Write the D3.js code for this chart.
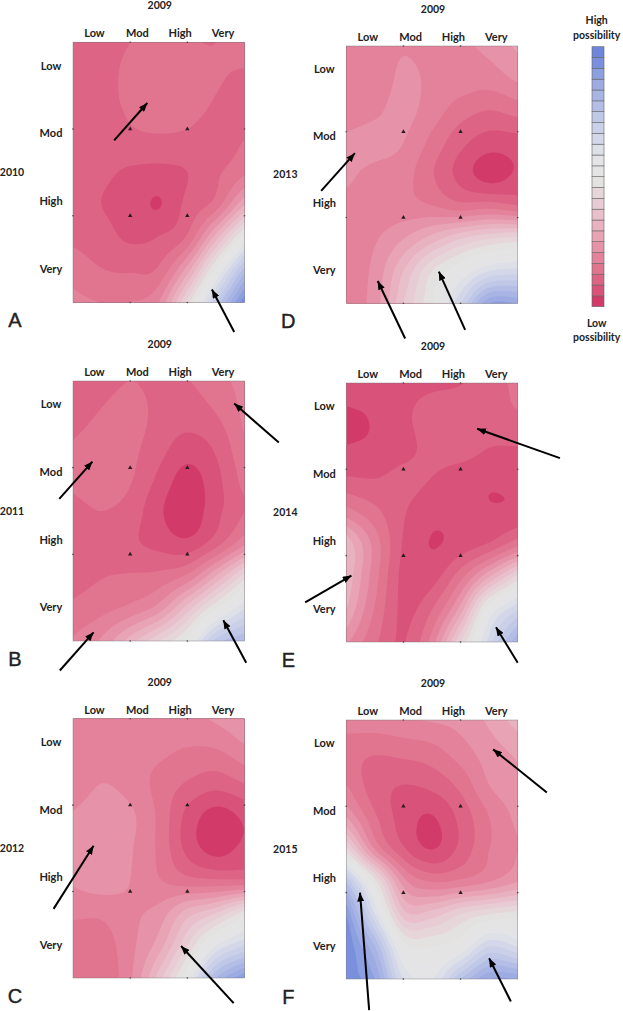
<!DOCTYPE html>
<html>
<head>
<meta charset="utf-8">
<script src="https://cdn.jsdelivr.net/npm/d3@7"></script>
<style>
  html, body { margin: 0; padding: 0; background: #fff; }
  text { font-family: Lato, "Open Sans", sans-serif; font-weight: 700; fill: #222; }
</style>
</head>
<body>
<div id="chart"></div>
<script>
const categories = ['Low', 'Mod', 'High', 'Very'];
const baseYear = '2009';

// bottom (low possibility) to top (high possibility)
const levelColors = ['#d23a6a', '#d8527a', '#dd6484', '#e1748e', '#e4829b', '#e692a8', '#e8a3b5', '#e9b2c0',
  '#e9bfcb', '#e8ccd5', '#e6d6da', '#e4e1e1', '#e4e4e4', '#e4e4e6', '#dee0e8', '#d3d7e9',
  '#cad0e8', '#c0c8e8', '#b3bde6', '#a8b4e4', '#9dabe2', '#8c9fe0', '#7a90de', '#6e85dc'];

// surface, 9 rows by 7 columns, in legend steps
const surfaceA = [
  [2.5, 2.7, 3.0, 3.4, 3.1, 3.0, 3.5],
  [2.4, 2.7, 3.2, 3.5, 3.5, 3.1, 2.9],
  [2.4, 2.75, 3.1, 3.4, 3.3, 2.9, 2.7],
  [2.5, 2.6, 2.8, 2.85, 2.8, 2.6, 3.0],
  [2.4, 2.2, 1.85, 1.7, 2.0, 2.8, 3.8],
  [2.4, 2.0, 1.6, 0.95, 2.3, 3.5, 7],
  [2.8, 2.4, 1.85, 2.05, 3.2, 7.5, 12.8],
  [3.6, 3.05, 2.9, 3.2, 6.5, 12.5, 18.5],
  [4.3, 4.0, 4.0, 5, 10.5, 17, 23]
];
const surfaceB = [
  [2.3, 2.5, 3.0, 2.7, 2.95, 3.6, 4.4],
  [2.4, 3.1, 3.5, 2.7, 2.5, 3.0, 4.2],
  [3.1, 3.6, 3.3, 2.4, 1.6, 2.2, 3.9],
  [3.2, 3.6, 3.1, 1.8, 0.6, 1.7, 3.4],
  [2.7, 3.0, 2.6, 1.2, 0.3, 1.7, 3.0],
  [2.4, 2.7, 2.2, 1.7, 1.3, 2.6, 4.8],
  [2.6, 2.95, 3.1, 3.3, 4.2, 7, 10.5],
  [3.2, 3.7, 4.3, 5.5, 8.5, 12, 15],
  [4.1, 5.2, 7.5, 10, 12.5, 17.5, 19]
];
const surfaceC = [
  [4.2, 4.3, 4.4, 4.5, 4.6, 5.2, 6],
  [4.2, 4.3, 4.4, 4.2, 3.9, 3.9, 4.7],
  [4.3, 5.0, 4.6, 3.7, 2.9, 2.4, 3.0],
  [5.1, 5.5, 5.2, 3.8, 1.7, 0.6, 1.2],
  [5.2, 5.5, 5.1, 3.8, 1.7, 0.6, 1.3],
  [5.1, 5.5, 5.0, 4.1, 3.4, 3.2, 3.2],
  [4.2, 4.2, 4.8, 5.4, 7.5, 9, 11.5],
  [3.3, 3.5, 4.7, 6.5, 10, 14, 16],
  [3.2, 3.3, 4.8, 8.5, 13, 19, 22]
];
const surfaceD = [
  [4.4, 4.5, 4.9, 4.6, 4.8, 5.3, 6.2],
  [4.4, 4.4, 5.2, 4.8, 4.6, 4.5, 5.2],
  [4.3, 4.8, 5.3, 4.5, 3.5, 3.0, 3.4],
  [5.3, 5.4, 5.0, 3.7, 2.3, 1.5, 1.6],
  [5.2, 4.7, 4.4, 3.1, 1.65, 0.55, 1.2],
  [4.7, 4.5, 4.4, 4.1, 3.5, 3.7, 3.2],
  [4.5, 4.9, 6.0, 7.5, 9, 10, 10.5],
  [4.4, 5.3, 8, 11, 13, 15, 15.5],
  [4.4, 5.5, 9, 12, 16, 21, 21]
];
const surfaceE = [
  [1.4, 1.5, 1.7, 1.8, 1.95, 2.5, 3.3],
  [0.9, 1.1, 1.8, 2.4, 2.6, 2.7, 2.9],
  [1.05, 1.2, 1.7, 2.3, 2.5, 2.0, 1.95],
  [2.2, 2.05, 2.3, 1.95, 1.4, 1.12, 1.25],
  [4.5, 3.3, 2.1, 1.3, 1.3, 1.12, 1.25],
  [7.8, 4.6, 1.9, 0.97, 1.45, 2.2, 3.8],
  [7.8, 4.4, 1.7, 1.6, 3.7, 7, 10.5],
  [7, 3.9, 1.8, 3, 6.5, 13, 16],
  [5.2, 3.2, 1.95, 4.5, 10, 15.5, 20]
];
const surfaceF = [
  [4.6, 4.7, 4.9, 5.1, 5.4, 6.2, 7.5],
  [3.4, 3.1, 3.3, 3.6, 4.5, 5.5, 6.2],
  [4.0, 2.5, 2.0, 2.3, 3.3, 5, 5.8],
  [6, 3.2, 1.55, 0.95, 2.3, 4, 5.3],
  [10.5, 5, 2.2, 1.0, 2.3, 4, 5],
  [18, 11.5, 5.5, 4, 4.3, 5, 6],
  [22, 15, 8.5, 8.5, 10, 11, 11.5],
  [23, 19, 12.5, 12, 13, 16, 15],
  [22.5, 21, 15, 14, 18, 21, 21]
];

// arrows in map units (0-3 across and down), tail then head
const arrowsA = [[0.72, 1.13, 1.30, 0.70], [2.82, 3.34, 2.43, 2.85]];
const arrowsB = [[-0.24, 1.36, 0.34, 0.93], [3.60, 0.71, 2.82, 0.26], [-0.23, 3.34, 0.36, 2.90], [3.03, 3.25, 2.63, 2.76]];
const arrowsC = [[-0.34, 2.20, 0.36, 1.47], [2.81, 3.29, 1.89, 2.63]];
const arrowsD = [[-0.44, 1.69, 0.15, 1.25], [1.03, 3.41, 0.55, 2.74], [2.08, 3.31, 1.62, 2.63]];
const arrowsE = [[3.74, 0.87, 2.29, 0.53], [-0.72, 2.54, 0.09, 2.23], [3.00, 3.24, 2.62, 2.83]];
const arrowsF = [[0.40, 3.36, 0.24, 2.00], [3.51, 0.84, 2.57, 0.34], [2.88, 3.26, 2.50, 2.76]];

const panels = [
  { letter: 'A', year: '2010', surface: surfaceA, arrows: arrowsA, left: 73, top: 42.3, right: 244.5, bottom: 302.5 },
  { letter: 'B', year: '2011', surface: surfaceB, arrows: arrowsB, left: 73, top: 381, right: 244.5, bottom: 641 },
  { letter: 'C', year: '2012', surface: surfaceC, arrows: arrowsC, left: 73, top: 718.7, right: 244.5, bottom: 978 },
  { letter: 'D', year: '2013', surface: surfaceD, arrows: arrowsD, left: 346.3, top: 46, right: 517.7, bottom: 303.3 },
  { letter: 'E', year: '2014', surface: surfaceE, arrows: arrowsE, left: 346.3, top: 383, right: 517.7, bottom: 642 },
  { letter: 'F', year: '2015', surface: surfaceF, arrows: arrowsF, left: 346.3, top: 720, right: 517.7, bottom: 979 }
];

const svg = d3.select('#chart').append('svg')
  .attr('width', 623)
  .attr('height', 1011)
  .style('display', 'block');

svg.append('defs').append('marker')
  .attr('id', 'head')
  .attr('viewBox', '0 0 10 8')
  .attr('refX', 10)
  .attr('refY', 4)
  .attr('markerUnits', 'userSpaceOnUse')
  .attr('markerWidth', 9)
  .attr('markerHeight', 7)
  .attr('orient', 'auto')
  .append('path')
  .attr('d', 'M0,0L10,4L0,8Z')
  .attr('fill', '#000');

// Catmull-Rom between the read values, so the bands come out smooth
const cubic = (a, b, c, d, t) =>
  0.5 * (2 * b + (c - a) * t + (2 * a - 5 * b + 4 * c - d) * t * t + (3 * b - a - 3 * c + d) * t * t * t);

function sampleSurface(grid, nx, ny) {
  const rows = grid.length, cols = grid[0].length;
  const at = (r, c) => {
    const rr = Math.max(0, Math.min(rows - 1, r));
    const cc = Math.max(0, Math.min(cols - 1, c));
    // linear run-off past the edge
    const ex = c < 0 ? grid[rr][0] * 2 - grid[rr][1] : c >= cols ? grid[rr][cols - 1] * 2 - grid[rr][cols - 2] : grid[rr][cc];
    const ey = r < 0 ? grid[0][cc] * 2 - grid[1][cc] : r >= rows ? grid[rows - 1][cc] * 2 - grid[rows - 2][cc] : ex;
    return r < 0 || r >= rows ? ey : ex;
  };
  const values = new Float64Array(nx * ny);
  for (let j = 0; j < ny; j++) {
    const fy = Math.min(rows - 1.0001, (j + 0.5) / ny * (rows - 1));
    const r = Math.floor(fy), ty = fy - r;
    for (let i = 0; i < nx; i++) {
      const fx = Math.min(cols - 1.0001, (i + 0.5) / nx * (cols - 1));
      const c = Math.floor(fx), tx = fx - c;
      const col = [-1, 0, 1, 2].map(k =>
        cubic(at(r + k, c - 1), at(r + k, c), at(r + k, c + 1), at(r + k, c + 2), tx));
      values[i + j * nx] = cubic(col[0], col[1], col[2], col[3], ty);
    }
  }
  return values;
}

panels.forEach(p => {
  const w = p.right - p.left;
  const h = p.bottom - p.top;
  const g = svg.append('g').attr('transform', `translate(${p.left},${p.top})`);

  const x = d3.scaleLinear().domain([0, 3]).range([0, w]);
  const y = d3.scaleLinear().domain([0, 3]).range([0, h]);
  const xBand = d3.scaleBand().domain(categories).range([0, w]);
  const yBand = d3.scaleBand().domain(categories).range([-10, h + 0.8]);

  // contour bands
  const nx = 172, ny = 260;
  const contours = d3.contours()
    .size([nx, ny])
    .thresholds(d3.range(1, levelColors.length))(sampleSurface(p.surface, nx, ny));
  const sx = w / nx, sy = h / ny;
  const path = d3.geoPath(d3.geoTransform({
    point(px, py) { this.stream.point(px * sx, py * sy); }
  }));

  g.append('rect').attr('width', w).attr('height', h).attr('fill', levelColors[0]);
  g.selectAll('.band')
    .data(contours)
    .enter()
    .append('path')
    .attr('class', 'band')
    .attr('d', path)
    .attr('fill', d => levelColors[d.value]);

  g.append('rect')
    .attr('width', w).attr('height', h)
    .attr('fill', 'none')
    .attr('stroke', '#777')
    .attr('stroke-opacity', 0.6)
    .attr('stroke-width', 0.7);

  // triangle markers on inner nodes, small dots on the frame
  const inner = [1, 2];
  const nodes = d3.cross(inner, inner);
  g.selectAll('.node')
    .data(nodes)
    .enter()
    .append('path')
    .attr('class', 'node')
    .attr('transform', d => `translate(${x(d[0])},${y(d[1])})`)
    .attr('d', d3.symbol(d3.symbolTriangle, 8))
    .attr('fill', '#2a1a20');
  const edge = [...inner.map(v => [0, v]), ...inner.map(v => [3, v]), ...inner.map(v => [v, 0]), ...inner.map(v => [v, 3])];
  g.selectAll('.edge')
    .data(edge)
    .enter()
    .append('circle')
    .attr('class', 'edge')
    .attr('cx', d => x(d[0]))
    .attr('cy', d => y(d[1]))
    .attr('r', 0.8)
    .attr('fill', '#444');

  // category labels
  g.append('g')
    .attr('transform', 'translate(0,-2)')
    .call(d3.axisTop(xBand).tickSize(0).tickPadding(3))
    .call(a => a.select('.domain').remove())
    .selectAll('text')
    .attr('font-size', 11)
    .style('font-family', 'Lato')
    .attr('fill', '#222');
  const yAxis = g.append('g')
    .attr('transform', 'translate(-22,0)')
    .call(d3.axisLeft(yBand).tickSize(0).tickPadding(0))
    .call(a => a.select('.domain').remove());
  yAxis.selectAll('text')
    .attr('text-anchor', 'middle')
    .attr('font-size', 11)
    .style('font-family', 'Lato')
    .attr('fill', '#222');

  // titles
  g.append('text')
    .attr('x', w / 2 + 1)
    .attr('y', -36.5)
    .attr('dy', '0.35em')
    .attr('text-anchor', 'middle')
    .attr('font-size', 10.5)
    .text(baseYear);
  g.append('text')
    .attr('x', -61)
    .attr('y', h / 2)
    .attr('dy', '0.35em')
    .attr('text-anchor', 'middle')
    .attr('font-size', 10.5)
    .text(p.year);
  g.append('text')
    .attr('x', -58)
    .attr('y', h + 18)
    .attr('dy', '0.35em')
    .attr('text-anchor', 'middle')
    .attr('font-size', 20)
    .style('font-family', 'Liberation Sans')
    .style('font-weight', 400)
    .attr('stroke', '#222')
    .attr('stroke-width', 0.4)
    .text(p.letter);

  // arrows
  g.selectAll('.arrow')
    .data(p.arrows)
    .enter()
    .append('line')
    .attr('class', 'arrow')
    .attr('x1', d => x(d[0]))
    .attr('y1', d => y(d[1]))
    .attr('x2', d => x(d[2]))
    .attr('y2', d => y(d[3]))
    .attr('stroke', '#000')
    .attr('stroke-width', 2)
    .attr('marker-end', 'url(#head)');
});

// legend
const legendY = d3.scaleBand()
  .domain(d3.range(levelColors.length).reverse())
  .range([46.7, 306.7]);
const legend = svg.append('g');
legend.selectAll('rect')
  .data(levelColors)
  .enter()
  .append('rect')
  .attr('x', 592)
  .attr('y', (d, i) => legendY(i))
  .attr('width', 12)
  .attr('height', legendY.bandwidth())
  .attr('fill', d => d)
  .attr('stroke', '#666')
  .attr('stroke-width', 0.6);

const legendText = [['High', 20.7], ['possibility', 35.7], ['Low', 323], ['possibility', 337.7]];
legend.selectAll('text')
  .data(legendText)
  .enter()
  .append('text')
  .attr('x', 596.7)
  .attr('y', d => d[1])
  .attr('dy', '0.35em')
  .attr('text-anchor', 'middle')
  .attr('font-size', 10.5)
  .text(d => d[0]);
</script>
</body>
</html>
